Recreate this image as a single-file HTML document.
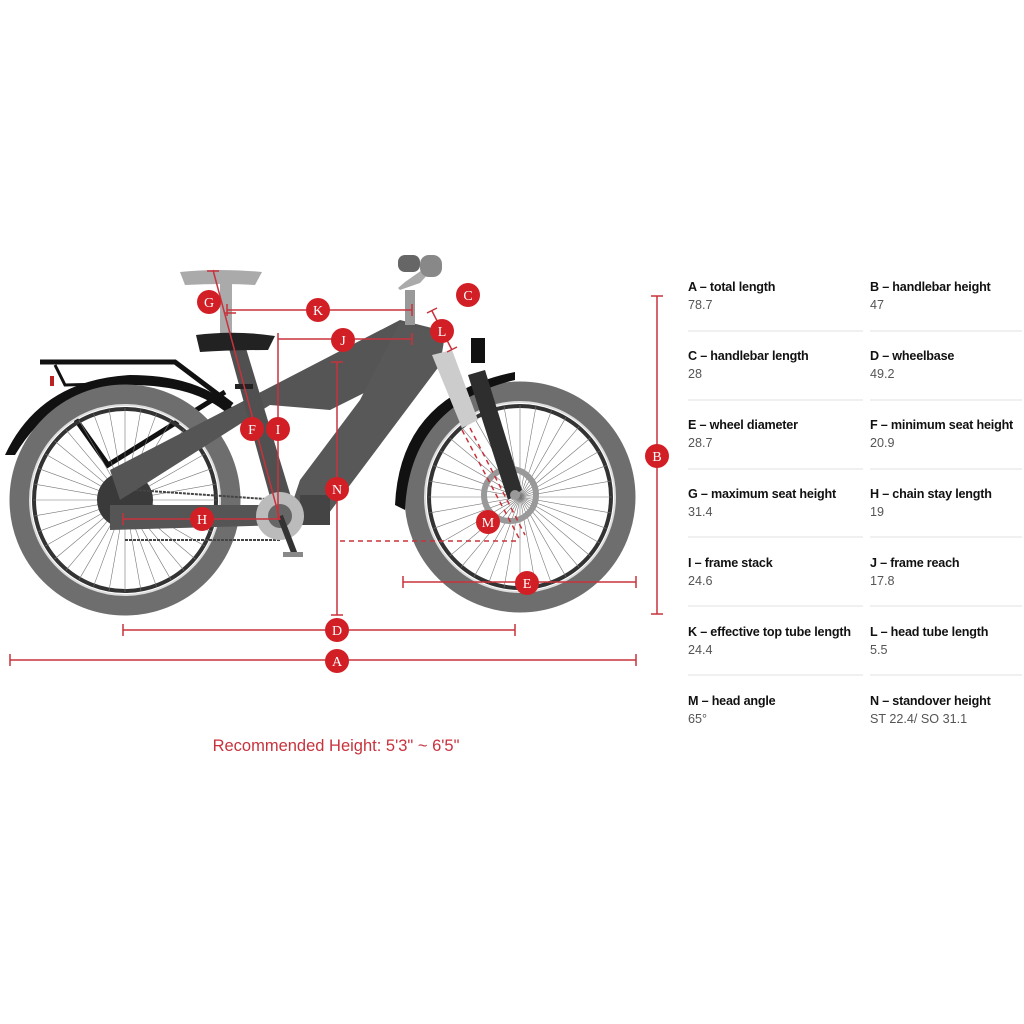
<!DOCTYPE html>
<html><head><meta charset="utf-8"><style>
body{margin:0;background:#fff;width:1024px;height:1024px;overflow:hidden;position:relative;font-family:"Liberation Sans",sans-serif}
svg{position:absolute;left:0;top:0}
.c{position:absolute;font-size:12.6px;color:#111}
.t{font-weight:bold;letter-spacing:-0.2px}
.v{color:#555;margin-top:4px}
.sep{position:absolute;height:2px;background:#f0f0f0}
.rec{position:absolute;left:0;width:672px;top:737px;text-align:center;color:#c8323c;font-size:16.5px}
</style></head><body>
<svg width="1024" height="1024" viewBox="0 0 1024 1024">
<defs>
<g id="sp" stroke="#777" stroke-width="0.6">
<line x1="-92" y1="0" x2="92" y2="0"/><line x1="-92" y1="0" x2="92" y2="0" transform="rotate(10)"/><line x1="-92" y1="0" x2="92" y2="0" transform="rotate(20)"/><line x1="-92" y1="0" x2="92" y2="0" transform="rotate(30)"/><line x1="-92" y1="0" x2="92" y2="0" transform="rotate(40)"/><line x1="-92" y1="0" x2="92" y2="0" transform="rotate(50)"/><line x1="-92" y1="0" x2="92" y2="0" transform="rotate(60)"/><line x1="-92" y1="0" x2="92" y2="0" transform="rotate(70)"/><line x1="-92" y1="0" x2="92" y2="0" transform="rotate(80)"/><line x1="-92" y1="0" x2="92" y2="0" transform="rotate(90)"/><line x1="-92" y1="0" x2="92" y2="0" transform="rotate(100)"/><line x1="-92" y1="0" x2="92" y2="0" transform="rotate(110)"/><line x1="-92" y1="0" x2="92" y2="0" transform="rotate(120)"/><line x1="-92" y1="0" x2="92" y2="0" transform="rotate(130)"/><line x1="-92" y1="0" x2="92" y2="0" transform="rotate(140)"/><line x1="-92" y1="0" x2="92" y2="0" transform="rotate(150)"/><line x1="-92" y1="0" x2="92" y2="0" transform="rotate(160)"/><line x1="-92" y1="0" x2="92" y2="0" transform="rotate(170)"/>
</g>
<g id="wh">
<circle r="105" fill="none" stroke="#6e6e6e" stroke-width="21"/>
<circle r="95" fill="none" stroke="#ddd" stroke-width="2"/>
<circle r="91" fill="none" stroke="#333" stroke-width="4"/>
<use href="#sp"/>
</g>
</defs>
<path d="M5,455 Q40,380 130,375 Q200,375 235,410 L228,414 Q195,385 130,385 Q55,388 15,455 Z" fill="#111"/>
<path d="M40,362 L175,362 L232,405" fill="none" stroke="#111" stroke-width="5"/>
<path d="M55,365 L65,385 L180,382" fill="none" stroke="#111" stroke-width="3"/>
<rect x="50" y="376" width="4" height="10" fill="#b22"/>
<path d="M62,400 L108,465 L225,392" fill="none" stroke="#111" stroke-width="5"/>
<g transform="translate(125,500)"><use href="#wh"/></g>
<g transform="translate(520,497)"><use href="#wh"/></g>
<circle cx="125" cy="500" r="28" fill="#3a3a3a"/>
<circle cx="510" cy="495" r="26" fill="none" stroke="#999" stroke-width="6"/>
<path d="M395,505 Q400,395 515,372 L515,380 Q410,405 405,510 Z" fill="#111"/>
<path d="M135,490 L280,500 M125,540 L280,540" stroke="#444" stroke-width="2" stroke-dasharray="3,1"/>
<path d="M110,470 L400,320 L440,330 L430,360 L330,410 L270,405 L120,500 Z" fill="#555"/>
<path d="M110,505 L280,505 L285,525 L110,530 Z" fill="#555"/>
<path d="M400,322 L445,335 L440,365 L320,525 L285,525 L300,480 L360,400 Z" fill="#585858"/>
<path d="M228,345 L245,345 L295,510 L275,515 Z" fill="#505050"/>
<rect x="300" y="495" width="30" height="30" fill="#444"/>
<circle cx="280" cy="516" r="24" fill="#bbb"/>
<circle cx="280" cy="516" r="12" fill="#666"/>
<path d="M280,516 L295,555" stroke="#333" stroke-width="6"/>
<rect x="283" y="552" width="20" height="5" fill="#888"/>
<path d="M180,272 Q220,268 262,272 L255,285 Q225,283 185,285 Z" fill="#aaa"/>
<rect x="220" y="283" width="12" height="55" fill="#aaa"/>
<path d="M196,335 Q235,330 275,336 L268,350 Q230,350 200,352 Z" fill="#222"/>
<rect x="235" y="384" width="18" height="5" fill="#222"/>
<path d="M400,290 L420,283 L430,272 L425,268 L405,282 L398,288 Z" fill="#aaa"/>
<rect x="405" y="290" width="10" height="35" fill="#999"/>
<rect x="398" y="255" width="22" height="17" rx="7" fill="#666"/>
<rect x="420" y="255" width="22" height="22" rx="9" fill="#888"/>
<path d="M432,355 L452,350 L478,420 L462,428 Z" fill="#ccc"/>
<path d="M468,375 L485,370 L522,490 L508,500 Z" fill="#2e2e2e"/>
<circle cx="515" cy="495" r="5" fill="#999"/>
<rect x="471" y="338" width="14" height="25" fill="#111"/>
<g stroke="#c8323c" stroke-width="1.5" fill="none">
<path d="M10,660 H636 M10,654 V666 M636,654 V666"/>
<path d="M123,630 H515 M123,624 V636 M515,624 V636"/>
<path d="M657,296 V614 M651,296 H663 M651,614 H663"/>
<path d="M403,582 H636 M403,576 V588 M636,576 V588"/>
<path d="M337,362 V615 M331,362 H343 M331,615 H343"/>
<path d="M123,519 H280 M123,513 V525"/>
<path d="M227,310 H412 M227,304 V316 M412,304 V316"/>
<path d="M278,339 H412 M412,333 V345"/>
<path d="M278,333 V520"/>
<path d="M213,270 L280,520 M207,271 H219 M224,313 H236"/>
<path d="M432,311 L452,350 M427,313 L437,308 M447,352 L457,347"/>
<path d="M340,541 H520 M462,430 L520,540 M470,428 L525,535" stroke-dasharray="5,4"/>
</g>
<g fill="#d11f25">
<circle cx="337" cy="661" r="12"/><circle cx="657" cy="456" r="12"/><circle cx="468" cy="295" r="12"/><circle cx="337" cy="630" r="12"/><circle cx="527" cy="583" r="12"/><circle cx="252" cy="429" r="12"/><circle cx="209" cy="302" r="12"/><circle cx="202" cy="519" r="12"/><circle cx="278" cy="429" r="12"/><circle cx="343" cy="340" r="12"/><circle cx="318" cy="310" r="12"/><circle cx="442" cy="331" r="12"/><circle cx="488" cy="522" r="12"/><circle cx="337" cy="489" r="12"/>
</g>
<g fill="#fff" font-family="Liberation Serif,serif" font-size="14" text-anchor="middle">
<text x="337" y="666">A</text><text x="657" y="461">B</text><text x="468" y="300">C</text><text x="337" y="635">D</text><text x="527" y="588">E</text><text x="252" y="434">F</text><text x="209" y="307">G</text><text x="202" y="524">H</text><text x="278" y="434">I</text><text x="343" y="345">J</text><text x="318" y="315">K</text><text x="442" y="336">L</text><text x="488" y="527">M</text><text x="337" y="494">N</text>
</g>
</svg>
<div class="c" style="left:688px;top:280px"><div class="t">A – total length</div><div class="v">78.7</div></div>
<div class="c" style="left:870px;top:280px"><div class="t">B – handlebar height</div><div class="v">47</div></div>
<div class="c" style="left:688px;top:349px"><div class="t">C – handlebar length</div><div class="v">28</div></div>
<div class="c" style="left:870px;top:349px"><div class="t">D – wheelbase</div><div class="v">49.2</div></div>
<div class="c" style="left:688px;top:418px"><div class="t">E – wheel diameter</div><div class="v">28.7</div></div>
<div class="c" style="left:870px;top:418px"><div class="t">F – minimum seat height</div><div class="v">20.9</div></div>
<div class="c" style="left:688px;top:487px"><div class="t">G – maximum seat height</div><div class="v">31.4</div></div>
<div class="c" style="left:870px;top:487px"><div class="t">H – chain stay length</div><div class="v">19</div></div>
<div class="c" style="left:688px;top:556px"><div class="t">I – frame stack</div><div class="v">24.6</div></div>
<div class="c" style="left:870px;top:556px"><div class="t">J – frame reach</div><div class="v">17.8</div></div>
<div class="c" style="left:688px;top:625px"><div class="t">K – effective top tube length</div><div class="v">24.4</div></div>
<div class="c" style="left:870px;top:625px"><div class="t">L – head tube length</div><div class="v">5.5</div></div>
<div class="c" style="left:688px;top:694px"><div class="t">M – head angle</div><div class="v">65°</div></div>
<div class="c" style="left:870px;top:694px"><div class="t">N – standover height</div><div class="v">ST 22.4/ SO 31.1</div></div>
<div class="sep" style="left:688px;width:175px;top:330px"></div><div class="sep" style="left:870px;width:152px;top:330px"></div>
<div class="sep" style="left:688px;width:175px;top:399px"></div><div class="sep" style="left:870px;width:152px;top:399px"></div>
<div class="sep" style="left:688px;width:175px;top:468px"></div><div class="sep" style="left:870px;width:152px;top:468px"></div>
<div class="sep" style="left:688px;width:175px;top:536px"></div><div class="sep" style="left:870px;width:152px;top:536px"></div>
<div class="sep" style="left:688px;width:175px;top:605px"></div><div class="sep" style="left:870px;width:152px;top:605px"></div>
<div class="sep" style="left:688px;width:175px;top:674px"></div><div class="sep" style="left:870px;width:152px;top:674px"></div>
<div class="rec">Recommended Height: 5'3" ~ 6'5"</div>
</body></html>
